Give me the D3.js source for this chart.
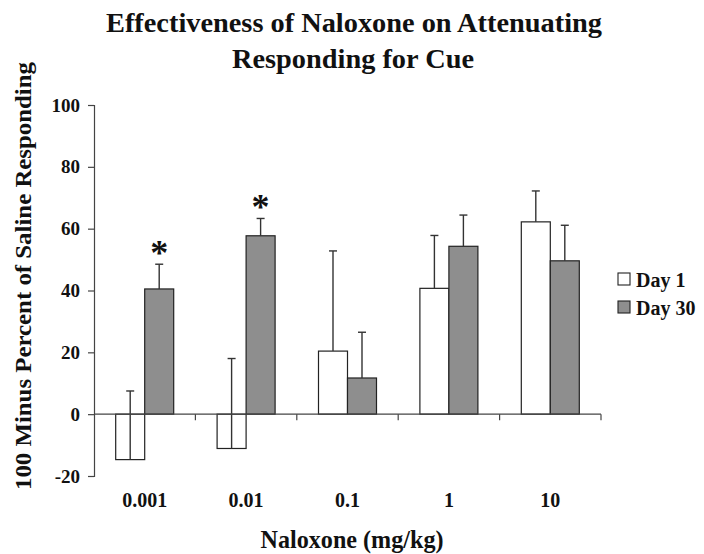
<!DOCTYPE html>
<html>
<head>
<meta charset="utf-8">
<script src="https://cdn.jsdelivr.net/npm/d3@7"></script>
<style>
  html, body { margin: 0; padding: 0; background: #fff; }
  svg { display: block; }
  text { font-family: "Liberation Serif", "Times New Roman", serif; font-weight: bold; fill: #111; }
</style>
</head>
<body>
<svg id="chart" width="704" height="554"></svg>
<script>
const categories = ["0.001", "0.01", "0.1", "1", "10"];
const series = ["Day 1", "Day 30"];
const day1Mean = [-14.7, -11.1, 20.4, 40.7, 62.2];
const day1SE = [22.2, 29.1, 32.4, 17.1, 10.0];
const day30Mean = [40.5, 57.7, 11.7, 54.3, 49.6];
const day30SE = [8.0, 5.6, 14.8, 10.1, 11.5];
const significant = [true, true, false, false, false]; // Day 30 asterisks
const yTicks = [-20, 0, 20, 40, 60, 80, 100];

(function () {
const svg = d3.select("#chart");
const mLeft = 94, mRight = 601, mTop = 105, mBottom = 476;

const x = d3.scaleBand().domain(categories).range([mLeft, mRight]).paddingInner(0).paddingOuter(0);
const y = d3.scaleLinear().domain([-20, 100]).range([mBottom, mTop]);
const groupW = x.bandwidth() * 0.572;
const x1 = d3.scaleBand().domain(series).range([0, groupW]);

const fills = { "Day 1": "#ffffff", "Day 30": "#8e8e8e" };

const data = [];
categories.forEach((c, i) => {
  data.push({ cat: c, s: "Day 1", mean: day1Mean[i], se: day1SE[i], sig: false });
  data.push({ cat: c, s: "Day 30", mean: day30Mean[i], se: day30SE[i], sig: significant[i] });
});

const bx = d => x(d.cat) + (x.bandwidth() - groupW) / 2 + x1(d.s);

// bars
svg.append("g").selectAll("rect").data(data).join("rect")
  .attr("x", bx)
  .attr("y", d => Math.min(y(d.mean), y(0)))
  .attr("width", x1.bandwidth())
  .attr("height", d => Math.abs(y(d.mean) - y(0)))
  .attr("fill", d => fills[d.s])
  .attr("stroke", "#222")
  .attr("stroke-width", 1.2);

// error bars (upper only)
const eb = svg.append("g").attr("stroke", "#333").attr("stroke-width", 1.4);
data.forEach(d => {
  const cx = bx(d) + x1.bandwidth() / 2;
  eb.append("line").attr("x1", cx).attr("x2", cx).attr("y1", y(d.mean)).attr("y2", y(d.mean + d.se));
  eb.append("line").attr("x1", cx - 4).attr("x2", cx + 4).attr("y1", y(d.mean + d.se)).attr("y2", y(d.mean + d.se));
});

// asterisks
svg.append("g").selectAll("text").data(data.filter(d => d.sig)).join("text")
  .attr("x", d => bx(d) + x1.bandwidth() / 2)
  .attr("y", d => y(d.mean + d.se) + 1)
  .attr("text-anchor", "middle")
  .style("font-size", "36px")
  .text("*");

// y axis
const yAxis = svg.append("g").attr("transform", `translate(${mLeft},0)`)
  .call(d3.axisLeft(y).tickValues(yTicks).tickSize(6).tickPadding(8).tickFormat(d3.format("d")));
yAxis.select(".domain").attr("stroke", "#444").attr("stroke-width", 1.2);
yAxis.selectAll(".tick line").attr("stroke", "#444").attr("stroke-width", 1.2);
yAxis.selectAll(".tick text").style("font-size", "19px").attr("fill", "#111")
  .style("font-family", "'Liberation Serif', 'Times New Roman', serif").style("font-weight", "bold")
  .text(d => String(d).replace("\u2212", "-"));

// x axis line at zero with boundary ticks
const xg = svg.append("g");
xg.append("line").attr("x1", mLeft).attr("x2", mRight).attr("y1", y(0)).attr("y2", y(0))
  .attr("stroke", "#444").attr("stroke-width", 1.2);
categories.forEach(c => {
  const bxr = x(c) + x.bandwidth();
  xg.append("line").attr("x1", bxr).attr("x2", bxr).attr("y1", y(0)).attr("y2", y(0) + 6)
    .attr("stroke", "#444").attr("stroke-width", 1.2);
});

// x category labels
svg.append("g").selectAll("text").data(categories).join("text")
  .attr("x", c => x(c) + x.bandwidth() / 2)
  .attr("y", 507)
  .attr("text-anchor", "middle")
  .style("font-size", "20px")
  .text(c => c);

// axis titles
svg.append("text").attr("x", 352).attr("y", 548).attr("text-anchor", "middle")
  .style("font-size", "25px").attr("textLength", 183).attr("lengthAdjust", "spacingAndGlyphs")
  .text("Naloxone (mg/kg)");
svg.append("text").attr("transform", "translate(31,276) rotate(-90)").attr("text-anchor", "middle")
  .style("font-size", "23px").attr("textLength", 428).attr("lengthAdjust", "spacingAndGlyphs")
  .text("100 Minus Percent of Saline Responding");

// title
svg.append("text").attr("x", 354).attr("y", 32).attr("text-anchor", "middle")
  .style("font-size", "28px").attr("textLength", 496).attr("lengthAdjust", "spacingAndGlyphs")
  .text("Effectiveness of Naloxone on Attenuating");
svg.append("text").attr("x", 353).attr("y", 68).attr("text-anchor", "middle")
  .style("font-size", "28px").attr("textLength", 242).attr("lengthAdjust", "spacingAndGlyphs")
  .text("Responding for Cue");

// legend
const lg = svg.append("g").attr("transform", "translate(618,273)");
series.forEach((s, i) => {
  const g = lg.append("g").attr("transform", `translate(0,${i * 28})`);
  g.append("rect").attr("width", 12).attr("height", 12).attr("fill", fills[s]).attr("stroke", "#222").attr("stroke-width", 1.1);
  g.append("text").attr("x", 18).attr("y", 14).style("font-size", "20px").text(s);
});
})();
</script>
</body>
</html>
